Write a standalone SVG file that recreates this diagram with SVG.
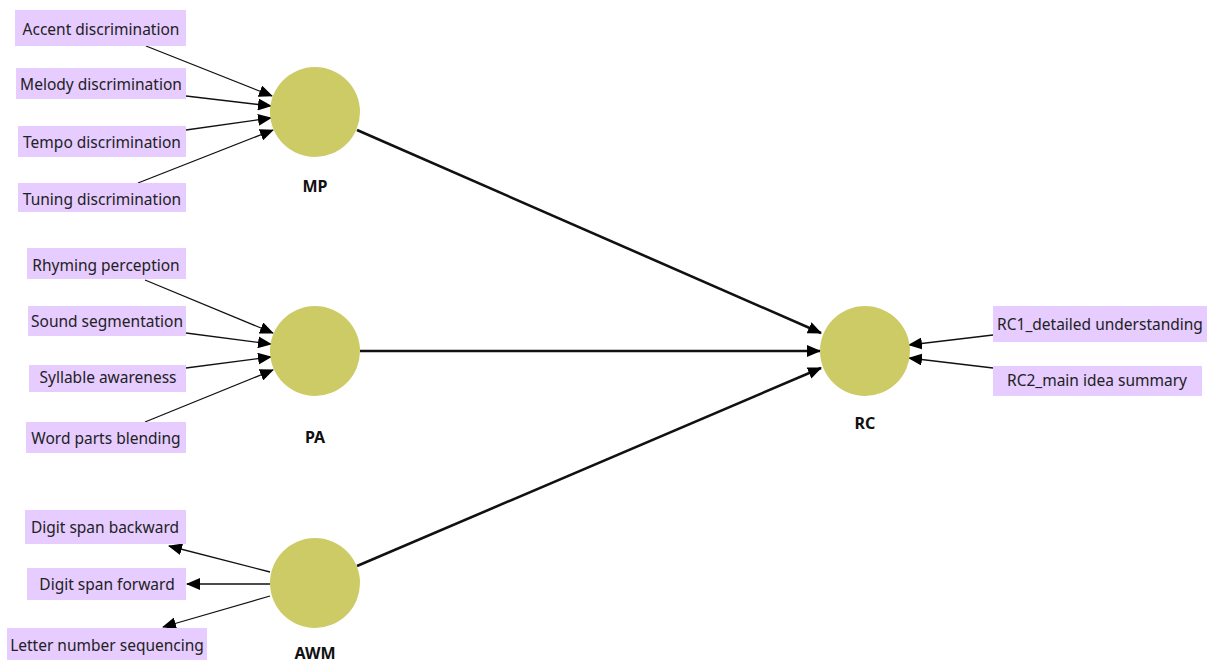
<svg xmlns="http://www.w3.org/2000/svg" width="1208" height="662" viewBox="0 0 1208 662">
<style>
.box{fill:#E6CCFF;}
.lv{fill:#CDCB65;}
.t{font-family:"Noto Sans","Open Sans",sans-serif;font-size:15.5px;fill:#222;text-anchor:middle;}
.lb{font-family:"Noto Sans","Open Sans",sans-serif;font-size:16px;font-weight:bold;fill:#111;text-anchor:middle;}
.thin{stroke:#111;stroke-width:1.3;fill:none;marker-end:url(#ah);}
.thick{stroke:#111;stroke-width:2.6;fill:none;marker-end:url(#ah);}
</style>
<defs>
<marker id="ah" markerUnits="userSpaceOnUse" markerWidth="14" markerHeight="12" refX="13" refY="6" orient="auto">
<path d="M0,0 L14,6 L0,12 Z" fill="#000"/>
</marker>
</defs>
<rect width="1208" height="662" fill="#fff"/>
<g id="connectors">
<line class="thin" x1="146" y1="46" x2="272" y2="96"/>
<line class="thin" x1="186" y1="96" x2="271" y2="106"/>
<line class="thin" x1="186" y1="130" x2="271" y2="118"/>
<line class="thin" x1="138" y1="183" x2="273" y2="130"/>
<line class="thin" x1="145" y1="280" x2="273" y2="333"/>
<line class="thin" x1="186" y1="333" x2="271" y2="344"/>
<line class="thin" x1="186" y1="368" x2="271" y2="357"/>
<line class="thin" x1="145" y1="422" x2="273" y2="370"/>
<line class="thin" x1="270" y1="572" x2="169" y2="546"/>
<line class="thin" x1="270" y1="584" x2="187" y2="584"/>
<line class="thin" x1="270" y1="596" x2="163" y2="627"/>
<line class="thin" x1="993" y1="335" x2="909" y2="345"/>
<line class="thin" x1="993" y1="368" x2="909" y2="358"/>
<line class="thick" x1="357" y1="130" x2="821" y2="333"/>
<line class="thick" x1="360" y1="351" x2="820" y2="351"/>
<line class="thick" x1="357" y1="566" x2="821" y2="368"/>
</g>
<g id="MP"><circle class="lv" cx="315" cy="112" r="45"/><text class="lb" x="315" y="192">MP</text></g>
<g id="PA"><circle class="lv" cx="315" cy="351" r="45"/><text class="lb" x="315" y="443">PA</text></g>
<g id="AWM"><circle class="lv" cx="315" cy="583" r="45"/><text class="lb" x="315" y="659">AWM</text></g>
<g id="RC"><circle class="lv" cx="865" cy="351" r="45"/><text class="lb" x="865" y="429">RC</text></g>
<g id="ind_accent"><rect class="box" x="15" y="10" width="171" height="36"/><text class="t" x="101" y="35">Accent discrimination</text></g>
<g id="ind_melody"><rect class="box" x="16" y="68" width="170" height="31"/><text class="t" x="101" y="90">Melody discrimination</text></g>
<g id="ind_tempo"><rect class="box" x="18" y="126" width="168" height="31"/><text class="t" x="102" y="148">Tempo discrimination</text></g>
<g id="ind_tuning"><rect class="box" x="18" y="183" width="168" height="29"/><text class="t" x="102" y="205">Tuning discrimination</text></g>
<g id="ind_rhyming"><rect class="box" x="27" y="248" width="159" height="31"/><text class="t" x="106" y="271">Rhyming perception</text></g>
<g id="ind_sound"><rect class="box" x="28" y="306" width="158" height="30"/><text class="t" x="107" y="327">Sound segmentation</text></g>
<g id="ind_syllable"><rect class="box" x="29" y="365" width="157" height="27"/><text class="t" x="108" y="383">Syllable awareness</text></g>
<g id="ind_word"><rect class="box" x="26" y="422" width="160" height="31"/><text class="t" x="106" y="444">Word parts blending</text></g>
<g id="ind_dsb"><rect class="box" x="25" y="510" width="161" height="34"/><text class="t" x="105" y="533">Digit span backward</text></g>
<g id="ind_dsf"><rect class="box" x="27" y="568" width="159" height="32"/><text class="t" x="107" y="590">Digit span forward</text></g>
<g id="ind_lns"><rect class="box" x="7" y="628" width="200" height="32"/><text class="t" x="107" y="651">Letter number sequencing</text></g>
<g id="ind_rc1"><rect class="box" x="993" y="306" width="214" height="36"/><text class="t" x="1100" y="330">RC1_detailed understanding</text></g>
<g id="ind_rc2"><rect class="box" x="993" y="366" width="209" height="30"/><text class="t" x="1097" y="386">RC2_main idea summary</text></g>
</svg>
